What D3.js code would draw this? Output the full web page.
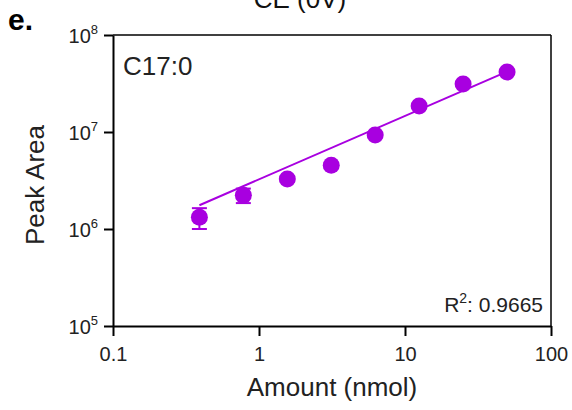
<html lang="en">
    <head>
        <meta charset="utf-8">
        <title>C17:0 calibration</title>
        <script src="https://d3js.org/d3.v7.min.js"></script>
        <style>
            body { margin: 0; background: #fff; }
            svg text { font-family: "Liberation Sans", Arial, sans-serif; }
        </style>
    </head>
    <body>
        <div class="chart"></div>

        <script type="text/javascript">
            /* data */
            const amounts = [0.390625, 0.78125, 1.5625, 3.125, 6.25, 12.5, 25, 50];
            const peakArea = [1.32e6, 2.23e6, 3.27e6, 4.55e6, 9.3e6, 1.85e7, 3.12e7, 4.15e7];
            const peakErr = [3.2e5, 3.8e5, 2.0e5, 2.5e5, 5e5, 9e5, 1.5e6, 1.5e6];
            const xTicks = [0.1, 1, 10, 100];
            const yTicks = [1e5, 1e6, 1e7, 1e8];
            /* power fit (straight line on log-log) */
            const fitRange = [0.390625, 50];
            const fitSlope = 0.654;
            const fitLogAt1 = 6.512;
            const r2Label = "0.9665";

            const width = 572, height = 410;
            const color = "#a800e0";

            const svg = d3.select(".chart")
                .append("svg")
                .attr("width", width)
                .attr("height", height);

            const x = d3.scaleLog().domain([0.1, 100]).range([113, 551]);
            const y = d3.scaleLog().domain([1e5, 1e8]).range([326, 35]);

            /* title cut off at top + panel letter */
            svg.append("text")
                .attr("x", 300).attr("y", 8)
                .attr("text-anchor", "middle")
                .attr("font-size", 26)
                .attr("fill", "#111")
                .text("CE (0V)");
            svg.append("text")
                .attr("x", 8).attr("y", 30)
                .attr("font-size", 30)
                .attr("font-weight", "bold")
                .attr("fill", "#000")
                .text("e.");

            /* frame top + right */
            svg.append("line")
                .attr("x1", x(0.1)).attr("x2", x(100))
                .attr("y1", y(1e8)).attr("y2", y(1e8))
                .attr("stroke", "#000").attr("stroke-width", 1.5);
            svg.append("line")
                .attr("x1", x(100)).attr("x2", x(100))
                .attr("y1", y(1e8)).attr("y2", y(1e5))
                .attr("stroke", "#000").attr("stroke-width", 1.5);

            /* x axis */
            const xAxis = svg.append("g")
                .attr("transform", `translate(0,${y(1e5)})`)
                .call(d3.axisBottom(x).tickValues(xTicks).tickFormat(d => d3.format("~g")(d)).tickSize(10).tickSizeOuter(0));
            xAxis.select(".domain").attr("stroke-width", 2);
            xAxis.selectAll(".tick line").attr("stroke-width", 2);
            xAxis.selectAll(".tick text")
                .attr("font-size", 20)
                .attr("fill", "#222")
                .attr("dy", "1.1em");

            /* y axis */
            const yAxis = svg.append("g")
                .attr("transform", `translate(${x(0.1)},0)`)
                .call(d3.axisLeft(y).tickValues(yTicks).tickFormat("").tickSize(9).tickSizeOuter(0));
            yAxis.select(".domain").attr("stroke-width", 2);
            yAxis.selectAll(".tick line").attr("stroke-width", 2);
            yAxis.selectAll(".tick text").remove();
            yAxis.selectAll(".tick").each(function(d) {
                const t = d3.select(this).append("text")
                    .attr("x", -15)
                    .attr("y", 7)
                    .attr("text-anchor", "end")
                    .attr("fill", "#222")
                    .attr("font-size", 20);
                t.append("tspan").text("10");
                t.append("tspan")
                    .attr("font-size", 13)
                    .attr("dy", -9)
                    .text(Math.round(Math.log10(d)));
            });

            /* axis titles */
            svg.append("text")
                .attr("x", (x(0.1) + x(100)) / 2)
                .attr("y", 396)
                .attr("text-anchor", "middle")
                .attr("font-size", 26)
                .attr("fill", "#222")
                .text("Amount (nmol)");
            svg.append("text")
                .attr("transform", "translate(44,185) rotate(-90)")
                .attr("text-anchor", "middle")
                .attr("font-size", 26)
                .attr("fill", "#222")
                .text("Peak Area");

            /* labels inside plot */
            svg.append("text")
                .attr("x", 123).attr("y", 75)
                .attr("font-size", 26)
                .attr("fill", "#222")
                .text("C17:0");
            const r2 = svg.append("text")
                .attr("x", 543).attr("y", 312)
                .attr("text-anchor", "end")
                .attr("font-size", 21)
                .attr("fill", "#222");
            r2.append("tspan").text("R");
            r2.append("tspan").attr("font-size", 14).attr("dy", -9).text("2");
            r2.append("tspan").attr("dy", 9).text(": " + r2Label);

            /* fit line */
            const fitPts = fitRange.map(a => [a, Math.pow(10, fitLogAt1 + fitSlope * Math.log10(a))]);
            svg.append("path")
                .datum(fitPts)
                .attr("fill", "none")
                .attr("stroke", color)
                .attr("stroke-width", 2)
                .attr("d", d3.line().x(d => x(d[0])).y(d => y(d[1])));

            const pts = amounts.map((a, i) => ({a: a, v: peakArea[i], e: peakErr[i]}));

            /* error bars */
            const eb = svg.selectAll(".err")
                .data(pts)
                .enter()
                .append("g")
                .attr("class", "err")
                .attr("stroke", color)
                .attr("stroke-width", 2);
            eb.append("line")
                .attr("x1", d => x(d.a)).attr("x2", d => x(d.a))
                .attr("y1", d => y(d.v + d.e)).attr("y2", d => y(d.v - d.e));
            eb.append("line")
                .attr("x1", d => x(d.a) - 7.5).attr("x2", d => x(d.a) + 7.5)
                .attr("y1", d => y(d.v + d.e)).attr("y2", d => y(d.v + d.e));
            eb.append("line")
                .attr("x1", d => x(d.a) - 7.5).attr("x2", d => x(d.a) + 7.5)
                .attr("y1", d => y(d.v - d.e)).attr("y2", d => y(d.v - d.e));

            /* points */
            svg.selectAll("circle")
                .data(pts)
                .enter()
                .append("circle")
                .attr("cx", d => x(d.a))
                .attr("cy", d => y(d.v))
                .attr("r", 8.5)
                .attr("fill", color);
        </script>
    </body>
</html>
